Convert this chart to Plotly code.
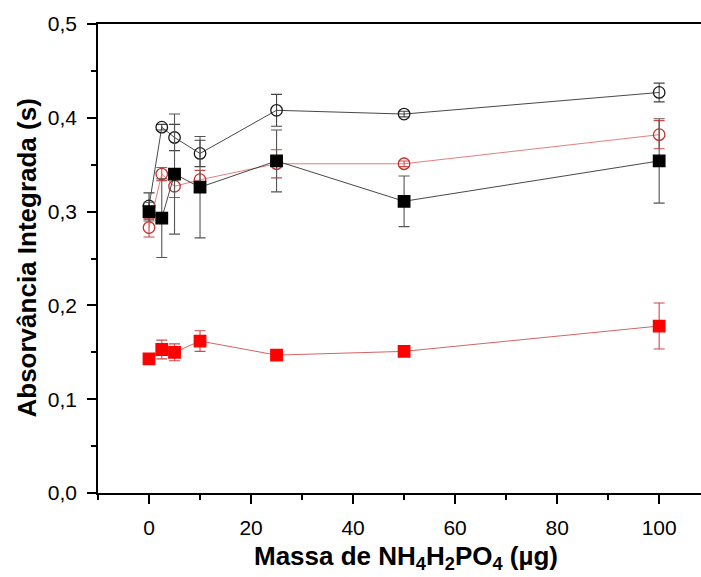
import plotly.graph_objects as go

# Mass of NH4H2PO4 added (µg)
massa = [0, 2.5, 5, 10, 25, 50, 100]

# Integrated absorbance (s) and standard deviations for each series
abs_circ_preto = [0.306, 0.390, 0.379, 0.362, 0.408, 0.404, 0.427]
err_circ_preto = [0.014, 0.003, 0.014, 0.014, 0.017, 0.003, 0.010]

abs_circ_verm = [0.283, 0.340, 0.327, 0.334, 0.351, 0.351, 0.382]
err_circ_verm = [0.010, 0.007, 0.012, 0.010, 0.015, 0.003, 0.015]

abs_quad_preto = [0.300, 0.293, 0.340, 0.326, 0.354, 0.311, 0.354]
err_quad_preto = [0.010, 0.042, 0.064, 0.054, 0.033, 0.027, 0.045]

abs_quad_verm = [0.143, 0.153, 0.150, 0.162, 0.147, 0.151, 0.178]
err_quad_verm = [0.003, 0.010, 0.009, 0.011, 0.003, 0.003, 0.0245]

y_ticks = [0.0, 0.1, 0.2, 0.3, 0.4, 0.5]
x_ticks = [0, 20, 40, 60, 80, 100]

FONT = "Liberation Sans, Arial, sans-serif"

fig = go.Figure()


def add_series(y, err, symbol, mcolor, lcolor, ecolor):
    marker = dict(symbol=symbol, size=11.5, color=mcolor,
                  line=dict(color=mcolor, width=1.3))
    fig.add_trace(go.Scatter(
        x=massa, y=y, mode="lines+markers",
        line=dict(color=lcolor, width=0.9),
        marker=marker,
        error_y=dict(type="data", array=err, visible=True,
                     color=ecolor, thickness=1.1, width=5.5),
        showlegend=False,
    ))


add_series(abs_circ_preto, err_circ_preto, "circle-open", "#1a1a1a", "#333333", "#444444")
add_series(abs_circ_verm, err_circ_verm, "circle-open", "#c0302a", "#e07070", "#d04848")
add_series(abs_quad_preto, err_quad_preto, "square", "#000000", "#333333", "#555555")
add_series(abs_quad_verm, err_quad_verm, "square", "#ff0000", "#d05050", "#d04848")

fig.update_layout(
    width=701, height=577,
    margin=dict(l=98, r=0, t=24, b=84),
    paper_bgcolor="white", plot_bgcolor="white",
    separators=",.",
    font=dict(family=FONT, size=20, color="#000000"),
    xaxis=dict(
        range=[-10, 108.2], tickvals=x_ticks,
        ticks="outside", ticklen=9, tickwidth=1.5, tickcolor="#000",
        showline=True, linecolor="#000", linewidth=1.5, mirror=True,
        showgrid=False, zeroline=False,
        minor=dict(ticks="outside", ticklen=5, tickwidth=1.5,
                   tickcolor="#000", dtick=10, tick0=10),
        tickfont=dict(size=21), ticklabelstandoff=6,
    ),
    yaxis=dict(
        range=[0, 0.5], tickvals=y_ticks, tickformat=".1f",
        ticks="outside", ticklen=9, tickwidth=1.5, tickcolor="#000",
        showline=True, linecolor="#000", linewidth=1.5,
        showgrid=False, zeroline=False,
        minor=dict(ticks="outside", ticklen=5, tickwidth=1.5,
                   tickcolor="#000", dtick=0.05, tick0=0.05),
        tickfont=dict(size=21), ticklabelstandoff=6,
    ),
    annotations=[
        dict(text="<b>Absorvância Integrada (s)</b>", textangle=-90,
             xref="paper", yref="paper", x=0, y=0.5,
             xanchor="center", yanchor="middle", xshift=-72,
             showarrow=False, font=dict(family=FONT, size=26)),
        dict(text="<b>Massa de NH<sub>4</sub>H<sub>2</sub>PO<sub>4</sub> (µg)</b>",
             xref="paper", yref="paper", x=0.511, y=0,
             xanchor="center", yanchor="middle", yshift=-64,
             showarrow=False, font=dict(family=FONT, size=26)),
    ],
)

fig.write_html("out.html")
